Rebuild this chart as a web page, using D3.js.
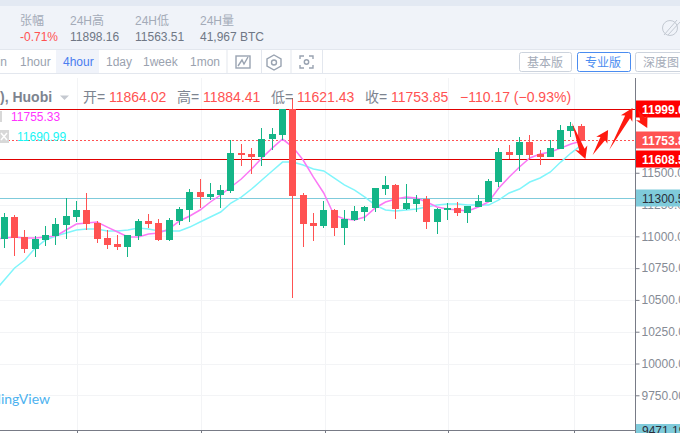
<!DOCTYPE html>
<html>
<head>
<meta charset="utf-8">
<script src="https://cdn.jsdelivr.net/npm/d3@7"></script>
<style>
  html, body { margin: 0; padding: 0; background: #fff; overflow: hidden; }
  svg { display: block; }
  text { font-family: "Liberation Sans", "Noto Sans CJK SC", sans-serif; }
</style>
</head>
<body>
<div id="chart"></div>
<script>
const w = 680;
const h = 433;

// candles
const opens = [10979,11152,10995,10900,10971,11003,11089,11152,11207,11105,10987,10940,10916,11003,11121,11105,10971,11121,11207,11348,11309,11325,11356,11655,11647,11624,11765,11797,12001,11325,11105,11081,11207,11066,11128,11191,11223,11372,11403,11215,11254,11293,11113,11207,11223,11183,11231,11270,11427,11663,11639,11742,11647,11624,11687,11828,11868];
const closes = [11152,10987,10900,10979,11011,11097,11160,11207,11097,10979,10932,10916,11011,11121,11097,10971,11128,11215,11348,11309,11333,11364,11655,11639,11624,11765,11805,12001,11317,11097,11081,11207,11066,11136,11199,11231,11380,11403,11215,11262,11293,11113,11215,11223,11183,11238,11278,11435,11663,11639,11742,11639,11624,11694,11836,11868,11749];
const highs = [11183,11168,11050,11003,11081,11144,11301,11278,11341,11121,11050,11011,11011,11136,11176,11136,11144,11231,11372,11451,11419,11403,11757,11726,11694,11852,11852,12001,12088,11341,11183,11278,11215,11207,11238,11238,11380,11474,11411,11411,11325,11317,11223,11262,11270,11238,11325,11451,11694,11718,11781,11797,11679,11757,11875,11899,11883];
const lows = [10908,10845,10869,10837,10924,10932,10979,11113,11050,10948,10900,10892,10837,10971,11066,10963,10963,11089,11113,11223,11286,11223,11341,11553,11490,11553,11679,11757,10515,10916,10963,11066,11003,10932,11121,11121,11191,11325,11136,11207,11191,11058,11018,11128,11160,11105,11231,11270,11388,11608,11514,11608,11561,11624,11687,11781,11749];

// both averages start one bar left of the window
const maFast = [10979,10987,10995,10987,10987,10995,11003,11050,11097,11105,11113,11073,11034,10995,10995,11018,11026,11058,11121,11160,11207,11270,11325,11388,11451,11529,11616,11694,11765,11702,11600,11466,11341,11168,11136,11128,11152,11223,11270,11293,11309,11301,11270,11231,11215,11207,11199,11231,11270,11380,11466,11545,11616,11647,11663,11694,11726,11749];
const maSlow = [10562,10657,10751,10814,10908,10971,11003,11026,11050,11058,11058,11042,11042,11050,11065,11058,11042,11042,11042,11073,11113,11152,11191,11262,11309,11372,11443,11514,11584,11584,11561,11529,11514,11459,11404,11364,11309,11246,11207,11199,11207,11215,11231,11246,11254,11254,11246,11246,11246,11286,11341,11372,11427,11459,11506,11584,11655,11718];

const priceTicks = [11500,11250,11000,10750,10500,10250,10000,9750];
const timeGrid = [7.1,19.1,31.1,43.1,55.3];

// drawn lines and their tags on the price scale
const levelPrices = [11999.0,11753.85,11608.5,11300.5];
const levelColors = ["#e00000","#ff5252","#e00000","#7fcbdb"];
const tagColors = ["#ff0000","#ff5252","#ff0000","#7fcbdb"];
const tagTexts = ["#fff","#fff","#fff","#2a2e39"];

// hand drawn arrows [index, price] tail then tip
const arrows = [
  [[55.1,11891],[56.4,11608]],
  [[57.1,11639],[58.6,11836]],
  [[58.7,11679],[60.97,12009]],
  [[61.5,11993],[62.4,11852]],
];

const statLabels = ["张幅","24H高","24H低","24H量"];
const statValues = ["-0.71%","11898.16","11563.51","41,967 BTC"];
const statX = [20,70,135,200];

const intervals = ["1min","1hour","4hour","1day","1week","1mon"];
const intervalX = [-19,20,63,106,143,190];

const versions = ["基本版","专业版","深度图"];
const versionX = [519,577,635];

const ohlcKeys = ["开=","高=","低=","收="];
const ohlcVals = ["11864.02","11884.41","11621.43","11753.85"];
const ohlcX = [83,177,271,365];

const axisX = 635.5;
const green = "#14b587";
const red = "#ff5252";

const x = d3.scaleLinear().domain([0,56]).range([4.3,581.3]);
const y = d3.scaleLinear().domain([11999,10000]).range([109.3,363.5]);

const svg = d3.select("#chart").append("svg").attr("width",w).attr("height",h);

// header panels
svg.append("rect").attr("width",w).attr("height",6).attr("fill","#e3e9f3");
svg.append("rect").attr("y",6).attr("width",w).attr("height",43).attr("fill","#f0f3f9");
svg.append("rect").attr("y",49).attr("width",w).attr("height",1).attr("fill","#e3e7ee");
svg.append("rect").attr("y",73).attr("width",w).attr("height",1).attr("fill","#e3e7ee");

statLabels.forEach((d,i) => {
  svg.append("text").attr("x",statX[i]).attr("y",25).text(d)
    .attr("font-size",12).attr("fill","#a4abb8");
  svg.append("text").attr("x",statX[i]).attr("y",41).text(statValues[i])
    .attr("font-size",12).attr("fill",i == 0 ? red : "#6f7785");
});

// pencil thing top right
const sig = svg.append("g").attr("fill","none").attr("stroke","#c3c9d2").attr("stroke-width",1);
sig.append("circle").attr("cx",670).attr("cy",28).attr("r",7.5);
sig.append("path").attr("d","M664 35L677 20M668 35L680 22");

// toolbar
svg.append("rect").attr("x",56).attr("y",50).attr("width",43).attr("height",23).attr("fill","#f0f3fa");
intervals.forEach((d,i) => {
  svg.append("text").attr("x",intervalX[i]).attr("y",66).text(d)
    .attr("font-size",12).attr("fill",i == 2 ? "#4a7df0" : "#9aa2af");
});
[226.5,261,290.5,322].forEach(px => {
  svg.append("rect").attr("x",px).attr("y",50).attr("width",1).attr("height",23).attr("fill","#e3e7ee");
});
const icons = svg.append("g").attr("fill","none").attr("stroke","#99a3b1").attr("stroke-width",1.4);
icons.append("rect").attr("x",236).attr("y",56).attr("width",14).attr("height",12);
icons.append("path").attr("d","M238 66L242 60L244 64L248 57");
icons.append("path").attr("d","M274 55L281 59V66L274 70L267 66V59Z");
icons.append("circle").attr("cx",274).attr("cy",62.5).attr("r",2.5);
icons.append("path").attr("d","M300 59V56H304M309 56H313V59M313 65V68H309M304 68H300V65");
icons.append("circle").attr("cx",306.5).attr("cy",62).attr("r",2.2);

versions.forEach((d,i) => {
  const on = i == 1;
  svg.append("rect").attr("x",versionX[i]+0.5).attr("y",52.5).attr("width",on ? 53 : 52).attr("height",19).attr("rx",2)
    .attr("fill","#fff").attr("stroke",on ? "#4a8cf0" : "#ccd3dd");
  svg.append("text").attr("x",versionX[i]+8).attr("y",67).text(d)
    .attr("font-size",12).attr("fill",on ? "#4a8cf0" : "#a4abb8");
});

// grid
const plotTop = 78;
const plotBottom = 430.5;
svg.append("g").selectAll("line").data(priceTicks).enter().append("line")
  .attr("x1",0).attr("x2",axisX)
  .attr("y1",d => Math.round(y(d))+0.5).attr("y2",d => Math.round(y(d))+0.5)
  .attr("stroke","#f3f4f6");
svg.append("g").selectAll("line").data(timeGrid).enter().append("line")
  .attr("x1",d => Math.round(x(d))+0.5).attr("x2",d => Math.round(x(d))+0.5)
  .attr("y1",plotTop).attr("y2",plotBottom)
  .attr("stroke","#f3f4f6");

// level lines sit behind the candles
levelPrices.forEach((d,i) => {
  svg.append("line").attr("x1",0).attr("x2",axisX)
    .attr("y1",Math.round(y(d))+0.5).attr("y2",Math.round(y(d))+0.5)
    .attr("stroke",levelColors[i])
    .attr("stroke-dasharray",i == 1 ? "2,2" : null);
});

// moving averages
const maLine = d3.line().x((d,i) => x(i-1)).y(d => y(d));
svg.append("path").attr("d",maLine(maSlow)).attr("fill","none").attr("stroke","#80f5fb").attr("stroke-width",1.5);
svg.append("path").attr("d",maLine(maFast)).attr("fill","none").attr("stroke","#fb78f5").attr("stroke-width",1.5);

// candles
const candle = svg.append("g").selectAll("g").data(opens).enter().append("g")
  .attr("fill",(d,i) => closes[i] >= d ? green : red)
  .attr("shape-rendering","crispEdges");
candle.append("rect")
  .attr("x",(d,i) => Math.floor(x(i)))
  .attr("width",1)
  .attr("y",(d,i) => y(highs[i]))
  .attr("height",(d,i) => y(lows[i]) - y(highs[i]));
candle.append("rect")
  .attr("x",(d,i) => Math.floor(x(i))-3)
  .attr("width",7)
  .attr("y",(d,i) => y(Math.max(d,closes[i])))
  .attr("height",(d,i) => Math.abs(y(d) - y(closes[i])));

// legend row
svg.append("text").attr("x",0).attr("y",102).text("), Huobi")
  .attr("font-size",14).attr("font-weight","bold").attr("fill","#7d8490");
svg.append("path").attr("d","M60 95.5H69L64.5 100Z").attr("fill","#c5c9d0");
ohlcKeys.forEach((d,i) => {
  svg.append("text").attr("x",ohlcX[i]).attr("y",102).text(d).attr("font-size",14).attr("fill","#7d8490");
  svg.append("text").attr("x",ohlcX[i]+26).attr("y",102).text(ohlcVals[i]).attr("font-size",14).attr("fill",red);
});
svg.append("text").attr("x",460).attr("y",102).text("−110.17 (−0.93%)").attr("font-size",14).attr("fill",red);

svg.append("rect").attr("x",0).attr("y",111).attr("width",2).attr("height",11).attr("fill","#d8d8d8");
svg.append("rect").attr("x",0).attr("y",130).attr("width",9).attr("height",13).attr("fill","#d8d8d8");
svg.append("path").attr("d","M1 133L7 140M7 133L1 140").attr("stroke","#fff").attr("stroke-width",1.5);
svg.append("text").attr("x",11).attr("y",121).text("11755.33").attr("font-size",12).attr("fill","#ff33ff");
svg.append("text").attr("x",17).attr("y",141).text("11690.99").attr("font-size",12).attr("fill","#19f5f5");

svg.append("text").attr("x",50).attr("y",404).attr("text-anchor","end").text("TradingView")
  .attr("font-size",14).attr("fill","#4db2ef").style("font-family","Lato");

// bottom axis line and ticks
svg.append("rect").attr("x",0).attr("y",430).attr("width",axisX).attr("height",1).attr("fill","#787b86");
svg.append("g").selectAll("line").data(timeGrid).enter().append("line")
  .attr("x1",d => Math.round(x(d))+0.5).attr("x2",d => Math.round(x(d))+0.5)
  .attr("y1",431).attr("y2",433).attr("stroke","#787b86");

// price axis
const axisG = svg.append("g").attr("transform","translate("+axisX+",0)")
  .call(d3.axisRight(y).tickValues(priceTicks).tickFormat(d3.format(".2f")).tickSize(4).tickPadding(2));
axisG.select(".domain").attr("d","M0,"+plotTop+"V"+h).attr("stroke","#787b86");
axisG.selectAll(".tick line").attr("stroke","#787b86");
axisG.selectAll(".tick text").attr("font-size",12).attr("fill","#868b95")
  .style("font-family","'Liberation Sans'");

// tags on the price axis
levelPrices.forEach((d,i) => {
  const py = Math.round(y(d));
  svg.append("rect").attr("x",axisX+0.5).attr("y",py-8.5).attr("width",w-axisX).attr("height",17).attr("fill",tagColors[i]);
  svg.append("text").attr("x",642).attr("y",py+4.5).text(d3.format(".2f")(d))
    .attr("font-size",12).attr("font-weight",i == 3 ? "normal" : "bold").attr("fill",tagTexts[i]);
});
svg.append("rect").attr("x",axisX+0.5).attr("y",424).attr("width",w-axisX).attr("height",9).attr("fill","#7fcbdb");
svg.append("text").attr("x",642).attr("y",435).text(d3.format(".2f")(9471.19)).attr("font-size",12).attr("fill","#2a2e39");

// arrows, thin at the tail and with a wide head
const arrowShape = function (a) {
  const x0 = x(a[0][0]), y0 = y(a[0][1]);
  const x1 = x(a[1][0]), y1 = y(a[1][1]);
  const len = Math.hypot(x1-x0,y1-y0);
  const ux = (x1-x0)/len, uy = (y1-y0)/len;
  const nx = -uy, ny = ux;
  const neck = 10;
  const pts = [
    [x0,y0],
    [x1-ux*neck+nx*2.8,y1-uy*neck+ny*2.8],
    [x1-ux*(neck+2)+nx*6.5,y1-uy*(neck+2)+ny*6.5],
    [x1,y1],
    [x1-ux*(neck+2)-nx*6.5,y1-uy*(neck+2)-ny*6.5],
    [x1-ux*neck-nx*2.8,y1-uy*neck-ny*2.8],
  ];
  return "M"+pts.map(p => p.join(",")).join("L")+"Z";
};
svg.append("g").selectAll("path").data(arrows).enter().append("path")
  .attr("d",arrowShape).attr("fill","#ff1a10");
</script>
</body>
</html>
